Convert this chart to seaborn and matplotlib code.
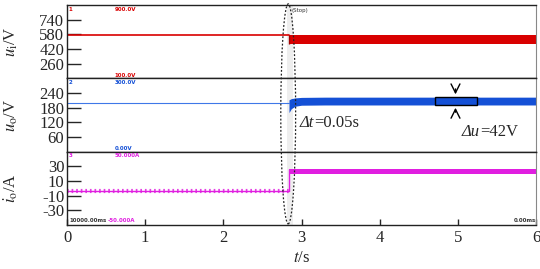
import numpy as np
import pandas as pd
import seaborn as sns
import matplotlib.pyplot as plt
from matplotlib.patches import Ellipse, Rectangle

# step instant and oscilloscope traces
t_step = 2.84

ui_pre_t = [0.0, 2.84]
ui_pre = [578, 578]
ui_band_t = [2.84, 6.0]
ui_band_hi = [578, 578]
ui_band_lo = [474, 474]

uo_pre_t = [0.0, 2.84]
uo_pre = [201, 201]
uo_band_t = [2.84, 2.87, 2.92, 3.0, 3.3, 6.0]
uo_band_hi = [212, 217, 220, 222, 223, 223]
uo_band_lo = [160, 176, 186, 190, 191, 191]

io_pre_t = [0.0, 2.84]
io_pre = [-3, -3]
io_band_t = [2.84, 6.0]
io_band_hi = [27, 27]
io_band_lo = [19, 19]

x_ticks = [0, 1, 2, 3, 4, 5, 6]
ui_ticks = [260, 420, 580, 740]
uo_ticks = [60, 120, 180, 240]
io_ticks = [-30, -10, 10, 30]

RED = '#d90000'
BLUE = '#1450d6'
BLUE_THIN = '#3f78e8'
MAG = '#e01ee0'

sns.set_style("ticks")
plt.rcParams['font.family'] = ['Liberation Serif', 'DejaVu Serif']
plt.rcParams['mathtext.fontset'] = 'stix'
plt.rcParams['axes.unicode_minus'] = False

fig = plt.figure(figsize=(5.4, 2.69), dpi=100)
left, right = 67 / 540, 536 / 540
top, bottom = 1 - 5 / 269, 1 - 225 / 269
h = (top - bottom) / 3
axes = [fig.add_axes([left, top - (i + 1) * h, right - left, h]) for i in range(3)]
ax1, ax2, ax3 = axes


def scope_axis(ax, ylim, yticks, ylabel):
    ax.set_xlim(0, 6)
    ax.set_ylim(*ylim)
    ax.set_yticks(yticks)
    ax.tick_params(axis='y', direction='in', length=10, width=1, labelsize=12, pad=2)
    ax.tick_params(axis='x', direction='in', length=4, width=1, labelsize=12)
    for s in ['top', 'bottom', 'left']:
        ax.spines[s].set_color('#222222')
        ax.spines[s].set_linewidth(1)
    ax.spines['right'].set_color('#888888')
    ax.spines['right'].set_linewidth(0.8)
    ax.set_ylabel(ylabel, fontsize=12)
    ax.yaxis.set_label_coords(-0.1, 0.5)
    ax.axvspan(2.81, 2.89, color='#eeeeee', zorder=0, lw=0)


# u_i
sns.lineplot(x=ui_pre_t, y=ui_pre, ax=ax1, color=RED, lw=1.2)
ax1.fill_between(ui_band_t, ui_band_lo, ui_band_hi, color=RED, lw=0)
ax1.vlines(t_step, ui_band_lo[0], ui_band_hi[0], color='#a00000', lw=1)
scope_axis(ax1, (100, 900), ui_ticks, r'$u_\mathrm{i}$/V')

# u_o
sns.lineplot(x=uo_pre_t, y=uo_pre, ax=ax2, color=BLUE_THIN, lw=0.8)
ax2.fill_between(uo_band_t, uo_band_lo, uo_band_hi, color=BLUE, lw=0)
scope_axis(ax2, (0, 300), uo_ticks, r'$u_\mathrm{o}$/V')

# i_o
sns.lineplot(x=io_pre_t, y=io_pre, ax=ax3, color=MAG, lw=1.0)
ax3.plot(io_pre_t, io_pre, color=MAG, lw=3.0, dashes=(0.4, 0.7), alpha=0.85)
ax3.fill_between(io_band_t, io_band_lo, io_band_hi, color=MAG, lw=0)
ax3.vlines(t_step, io_pre[-1], io_band_hi[0], color=MAG, lw=1)
scope_axis(ax3, (-50, 50), io_ticks, r'$i_\mathrm{o}$/A')

for ax in (ax1, ax2):
    ax.set_xticks(x_ticks)
    ax.tick_params(axis='x', labelbottom=False, length=0)
ax3.set_xticks(x_ticks)
ax3.set_xlabel(r'$t$/s', fontsize=12, labelpad=3)

# oscilloscope readouts
small = dict(fontsize=4, family='DejaVu Sans', fontweight='bold')
ax1.text(0.61, 880, '900.0V', color=RED, va='top', **small)
ax1.text(0.61, 105, '100.0V', color=RED, va='bottom', **small)
ax1.text(0.02, 880, '1', color=RED, va='top', **small)
ax2.text(0.61, 295, '300.0V', color=BLUE, va='top', **small)
ax2.text(0.61, 4, '0.00V', color=BLUE, va='bottom', **small)
ax2.text(0.02, 295, '2', color=BLUE, va='top', **small)
ax3.text(0.61, 48, '50.000A', color=MAG, va='top', **small)
ax3.text(0.52, -47, '-50.000A', color=MAG, va='bottom', **small)
ax3.text(0.02, 48, '3', color=MAG, va='top', **small)
ax3.text(0.03, -47, '10000.00ms', color='#333333', va='bottom', **small)
ax3.text(5.72, -47, '0.00ms', color='#333333', va='bottom', **small)

# delta u marker
ax2.add_patch(Rectangle((4.71, uo_band_lo[-1]), 0.53, uo_band_hi[-1] - uo_band_lo[-1],
                        fill=False, ec='black', lw=1, zorder=5))
ax2.annotate('', xy=(4.97, uo_band_hi[-1]), xytext=(4.97, 268),
             arrowprops=dict(arrowstyle='->', color='black', lw=1, mutation_scale=16))
ax2.annotate('', xy=(4.97, uo_band_lo[-1]), xytext=(4.97, 150),
             arrowprops=dict(arrowstyle='->', color='black', lw=1, mutation_scale=16))

# italic delta labels followed by upright values
dt = ax2.text(2.98, 118, 'Δt', fontsize=12, fontstyle='italic', va='center')
ax2.annotate('=0.05s', xy=(1, 0), xycoords=dt, fontsize=12, va='bottom', ha='left')
du = ax2.text(5.05, 80, 'Δu', fontsize=12, fontstyle='italic', va='center')
ax2.annotate('=42V', xy=(1, 0), xycoords=du, fontsize=12, va='bottom', ha='left')

# dashed ellipse across the three panels
ov = fig.add_axes([left, bottom, right - left, top - bottom], zorder=10)
ov.set_xlim(0, 6)
ov.set_ylim(0, 1)
ov.axis('off')
ov.patch.set_alpha(0)
ov.add_patch(Ellipse((2.83, 0.505), 0.19, 1.0, fill=False, ls=(0, (1.5, 1.5)),
                     ec='#222222', lw=0.9, clip_on=False))
ov.text(2.87, 0.975, '(Stop)', fontsize=4, family='DejaVu Sans', color='#333333', va='center')

fig.savefig('out.png', dpi=100)
